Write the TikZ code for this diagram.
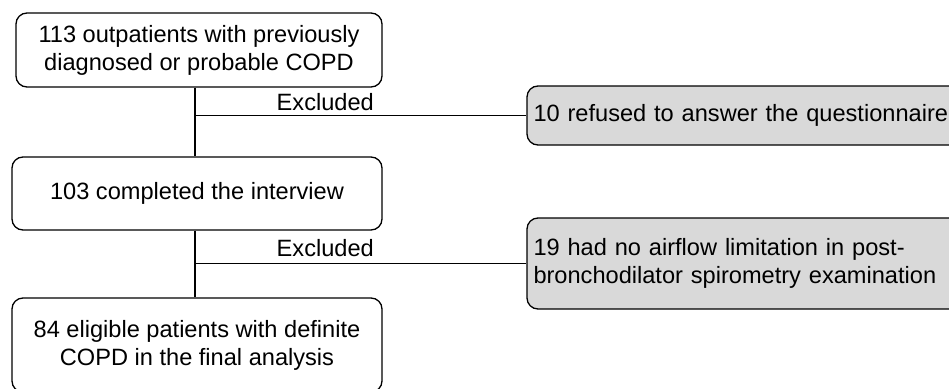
\documentclass[tikz,border=0pt]{standalone}
\usepackage{fontspec}
\setmainfont{Liberation Sans}
\usepackage{tikz}
\usetikzlibrary{calc}
\definecolor{boxgray}{HTML}{D9D9D9}

\tikzset{
	mainbox/.style={draw, line width=1.3pt, rounded corners=11pt, align=center, inner sep=0pt},
	sidebox/.style={mainbox, fill=boxgray, align=left, inner xsep=6.5pt, text width=420pt},
	link/.style={line width=1.3pt},
}

\begin{document}
\begin{tikzpicture}[x=1pt, y=1pt, font=\fontsize{23.6}{28}\selectfont]

% frame %{{{2

	\useasboundingbox (0,0) rectangle (949,-388);
	\clip (0,0) rectangle (949,-388);

% parameters %{{{2

	\def\spine{195}
	\def\sidex{743.5}

% main boxes %{{{2

	\node[mainbox, minimum width=366pt, minimum height=74pt] (B1) at (199,-50)
		{113 outpatients with previously\\diagnosed or probable COPD};
	\node[mainbox, minimum width=370pt, minimum height=73pt] (B2) at (197,-193.5)
		{103 completed the interview};
	\node[mainbox, minimum width=370pt, minimum height=94pt] (B3) at (197,-345)
		{84 eligible patients with definite\\COPD in the final analysis};

% excluded boxes %{{{2

	\node[sidebox, minimum height=59pt] (R1) at (\sidex,-115.5)
		{10 refused to answer the questionnaire};
	\node[sidebox, minimum height=91pt] (R2) at (\sidex,-263.5)
		{19 had no airflow limitation in post-\\bronchodilator spirometry examination};

% coordinates %{{{2

	\coordinate (J1) at (\spine,-115.5);
	\coordinate (J2) at (\spine,-263.5);

% lines %{{{2

	\draw[link] (J1 |- B1.south) -- (J1 |- B2.north);
	\draw[link] (J2 |- B2.south) -- (J2 |- B3.north);

	\draw[link] (J1) -- (R1.west);
	\draw[link] (J2) -- (R2.west);

% labels %{{{2

	\node[anchor=base east, inner sep=0pt] (E1) at (374,-110.5) {Excluded};
	\node[anchor=base east, inner sep=0pt] (E2) at (374,-256) {Excluded};

% closing %{{{2

\end{tikzpicture}
\end{document}
